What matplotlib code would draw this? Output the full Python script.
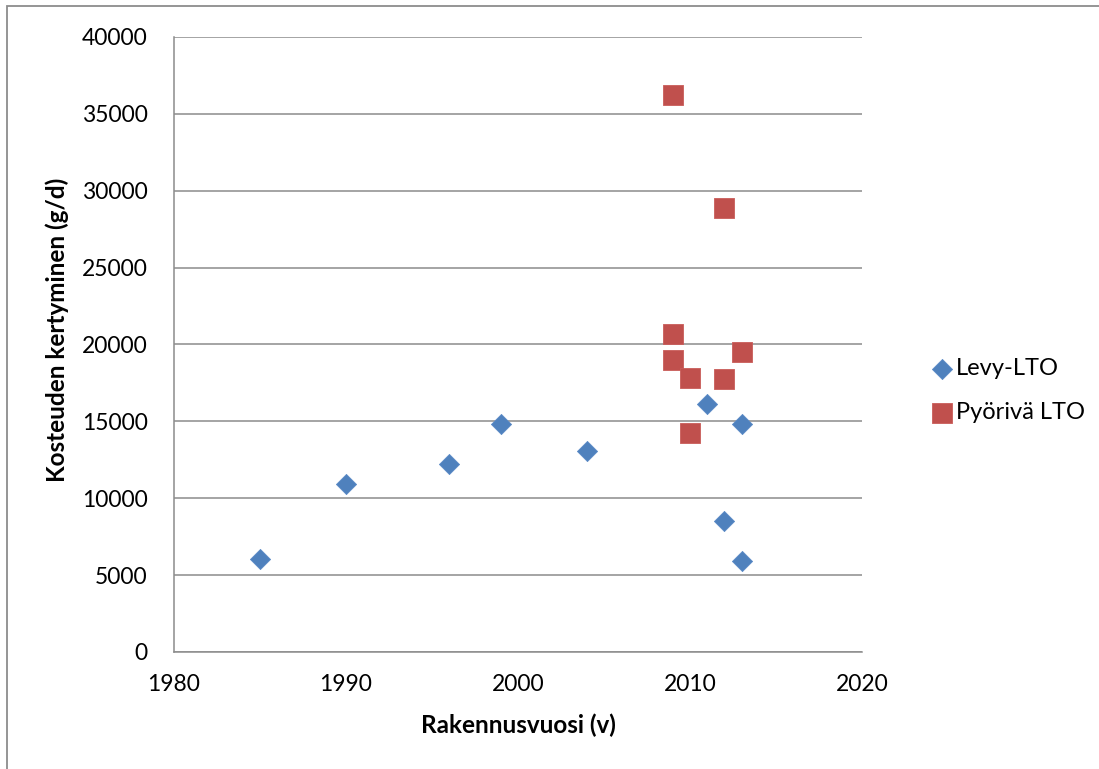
import matplotlib
matplotlib.use("Agg")
import matplotlib.pyplot as plt
from matplotlib.patches import Rectangle

plt.rcParams['font.family'] = ['Lato', 'DejaVu Sans']

levy_x = [1985, 1990, 1996, 1999, 2004, 2011, 2013, 2012, 2013]
levy_y = [6050, 10900, 12250, 14800, 13050, 16100, 14800, 8500, 5900]
pyor_x = [2009, 2012, 2009, 2009, 2010, 2012, 2013, 2010]
pyor_y = [36200, 28900, 20700, 19000, 17850, 17750, 19500, 14250]
series_names = ["Levy-LTO", "Pyörivä LTO"]
x_ticks = [1980, 1990, 2000, 2010, 2020]
y_ticks = [0, 5000, 10000, 15000, 20000, 25000, 30000, 35000, 40000]

fig = plt.figure(figsize=(10.99, 7.69), dpi=100)
fig.patch.set_facecolor('white')
fig.patches.append(Rectangle((7/1099, 0 - 0.01), 1.1, 1 - 6/769 + 0.01, transform=fig.transFigure,
                             fill=False, edgecolor='#8c8c8c', linewidth=1.3, zorder=0))

ax = fig.add_axes([174/1099, 117/769, 688/1099, 615/769])
ax.set_xlim(1980, 2020)
ax.set_ylim(0, 40000)
ax.set_xticks(x_ticks)
ax.set_yticks(y_ticks)
ax.grid(axis='y', color='#8c8c8c', linewidth=1.1)
ax.set_axisbelow(True)
for s in ['top', 'right']:
    ax.spines[s].set_visible(False)
for s in ['left', 'bottom']:
    ax.spines[s].set_color('#8c8c8c')
    ax.spines[s].set_linewidth(1.1)
ax.tick_params(axis='both', length=0, labelsize=16.5)
ax.tick_params(axis='y', pad=19)
ax.tick_params(axis='x', pad=16)

ax.scatter(levy_x, levy_y, marker='D', s=105, color='#4F81BD', edgecolor='#5a8ac6',
           linewidth=0.6, label=series_names[0], zorder=3)
ax.scatter(pyor_x, pyor_y, marker='s', s=200, color='#C0504D', edgecolor='#c95c59',
           linewidth=0.6, label=series_names[1], zorder=3)

ax.set_xlabel("Rakennusvuosi (v)", fontsize=17.5, fontweight='bold', labelpad=13)
ax.set_ylabel("Kosteuden kertyminen (g/d)", fontsize=17.5, fontweight='bold', labelpad=9)
ax.yaxis.label.set_y((652 - 330) / 615)

leg = ax.legend(loc='center left', bbox_to_anchor=(1.085, 0.425), frameon=False,
                fontsize=17, handletextpad=0.1, labelspacing=1.0, handlelength=1.0,
                borderaxespad=0)

fig.savefig("out.png", dpi=100)
